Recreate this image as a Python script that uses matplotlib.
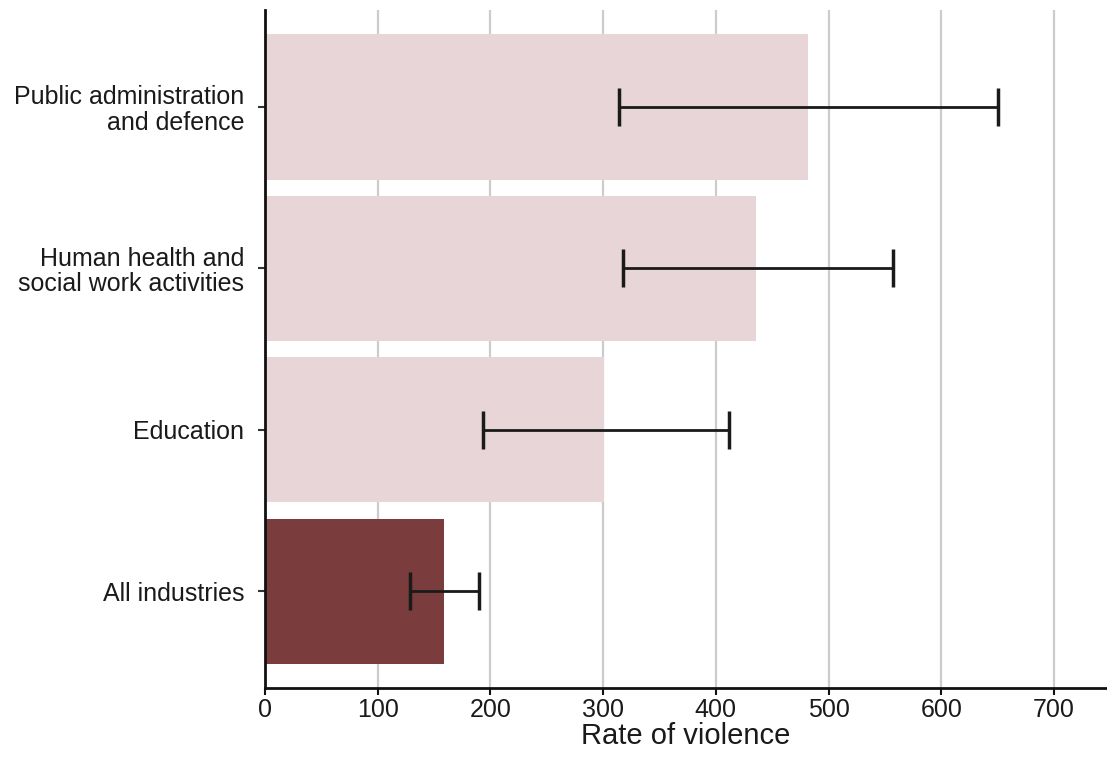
import matplotlib.pyplot as plt

categories = ['All industries', 'Education',
              'Human health and\nsocial work activities',
              'Public administration\nand defence']
rates = [159, 301, 436, 482]
lower = [129, 193, 318, 314]
upper = [190, 412, 557, 650]
colors = ['#7a3c3c', '#e8d5d7', '#e8d5d7', '#e8d5d7']

plt.rcParams['font.family'] = ['Liberation Sans', 'DejaVu Sans']

fig = plt.figure(figsize=(11.07, 7.57), dpi=100)
ax = fig.add_axes([265 / 1107, 1 - 688 / 757, 1 - 265 / 1107, (688 - 10) / 757])

ypos = list(range(len(categories)))
ax.barh(ypos, rates, height=0.9, color=colors, zorder=2)
xerr = [[r - lo for r, lo in zip(rates, lower)], [up - r for r, up in zip(rates, upper)]]
ax.errorbar(rates, ypos, xerr=xerr, fmt='none', ecolor='#1a1a1a', elinewidth=2,
            capsize=14, capthick=2.5, zorder=3)

ax.set_xlim(0, 747)
ax.set_ylim(-0.6, 3.6)
ax.set_xticks(range(0, 701, 100))
ax.set_yticks(ypos)
ax.set_yticklabels(categories, fontsize=18, ha='right', linespacing=1.08, color='#1a1a1a')
for lbl in ax.get_xticklabels():
    lbl.set_color('#1a1a1a')
ax.tick_params(axis='x', labelsize=18, length=5, width=1.5, color='#111111', pad=2)
ax.tick_params(axis='y', length=5, width=1.5, color='#333333', pad=10)
ax.grid(axis='x', color='#cccccc', linewidth=1.6, zorder=0)
ax.set_axisbelow(True)
for s in ['top', 'right']:
    ax.spines[s].set_visible(False)
for s in ['left', 'bottom']:
    ax.spines[s].set_linewidth(2)
    ax.spines[s].set_color('#111111')
ax.set_xlabel('Rate of violence', fontsize=21, labelpad=0, color='#1a1a1a')

fig.savefig('out.png', dpi=100)
